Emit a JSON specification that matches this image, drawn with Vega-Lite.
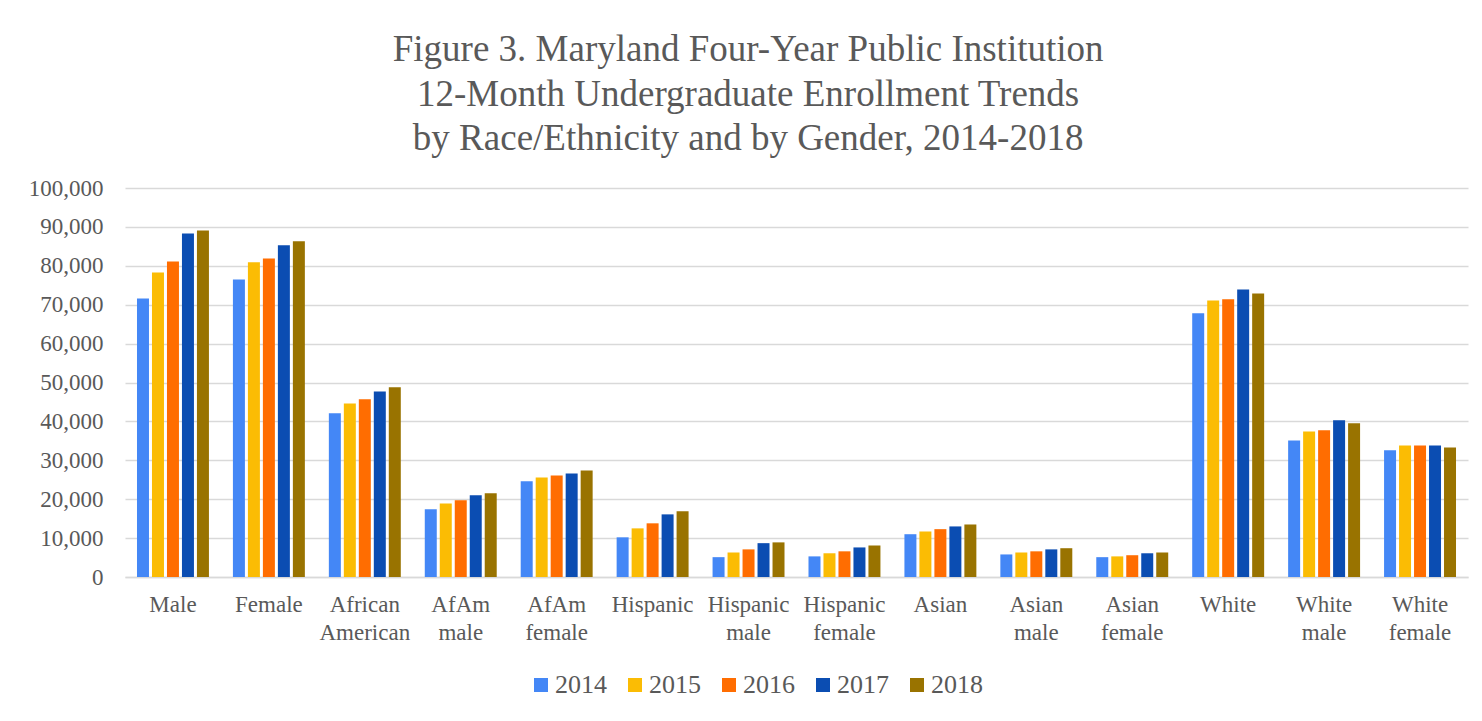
{
  "$schema": "https://vega.github.io/schema/vega-lite/v6.json",
  "autosize": {"type": "none"},
  "width": 1343,
  "height": 389,
  "padding": {"left": 125, "top": 188, "right": 14, "bottom": 144},
  "background": "white",
  "title": {
    "text": ["Figure 3. Maryland Four-Year Public Institution", "12-Month Undergraduate Enrollment Trends", "by Race/Ethnicity and by Gender, 2014-2018"],
    "font": "Liberation Serif",
    "fontSize": 37,
    "fontWeight": "normal",
    "color": "#595959",
    "lineHeight": 44.5,
    "anchor": "middle",
    "frame": "bounds",
    "offset": 19
  },
  "data": {
    "values": [
      {"group": "Male", "year": "2014", "value": 71600},
      {"group": "Male", "year": "2015", "value": 78300},
      {"group": "Male", "year": "2016", "value": 81100},
      {"group": "Male", "year": "2017", "value": 88300},
      {"group": "Male", "year": "2018", "value": 89100},
      {"group": "Female", "year": "2014", "value": 76500},
      {"group": "Female", "year": "2015", "value": 80900},
      {"group": "Female", "year": "2016", "value": 81900},
      {"group": "Female", "year": "2017", "value": 85300},
      {"group": "Female", "year": "2018", "value": 86300},
      {"group": "African American", "year": "2014", "value": 42100},
      {"group": "African American", "year": "2015", "value": 44600},
      {"group": "African American", "year": "2016", "value": 45700},
      {"group": "African American", "year": "2017", "value": 47700},
      {"group": "African American", "year": "2018", "value": 48800},
      {"group": "AfAm male", "year": "2014", "value": 17400},
      {"group": "AfAm male", "year": "2015", "value": 18900},
      {"group": "AfAm male", "year": "2016", "value": 19700},
      {"group": "AfAm male", "year": "2017", "value": 21000},
      {"group": "AfAm male", "year": "2018", "value": 21500},
      {"group": "AfAm female", "year": "2014", "value": 24600},
      {"group": "AfAm female", "year": "2015", "value": 25600},
      {"group": "AfAm female", "year": "2016", "value": 26100},
      {"group": "AfAm female", "year": "2017", "value": 26600},
      {"group": "AfAm female", "year": "2018", "value": 27400},
      {"group": "Hispanic", "year": "2014", "value": 10200},
      {"group": "Hispanic", "year": "2015", "value": 12500},
      {"group": "Hispanic", "year": "2016", "value": 13800},
      {"group": "Hispanic", "year": "2017", "value": 16100},
      {"group": "Hispanic", "year": "2018", "value": 16900},
      {"group": "Hispanic male", "year": "2014", "value": 5100},
      {"group": "Hispanic male", "year": "2015", "value": 6300},
      {"group": "Hispanic male", "year": "2016", "value": 7100},
      {"group": "Hispanic male", "year": "2017", "value": 8700},
      {"group": "Hispanic male", "year": "2018", "value": 8900},
      {"group": "Hispanic female", "year": "2014", "value": 5300},
      {"group": "Hispanic female", "year": "2015", "value": 6100},
      {"group": "Hispanic female", "year": "2016", "value": 6600},
      {"group": "Hispanic female", "year": "2017", "value": 7600},
      {"group": "Hispanic female", "year": "2018", "value": 8100},
      {"group": "Asian", "year": "2014", "value": 11000},
      {"group": "Asian", "year": "2015", "value": 11700},
      {"group": "Asian", "year": "2016", "value": 12300},
      {"group": "Asian", "year": "2017", "value": 13000},
      {"group": "Asian", "year": "2018", "value": 13500},
      {"group": "Asian male", "year": "2014", "value": 5800},
      {"group": "Asian male", "year": "2015", "value": 6300},
      {"group": "Asian male", "year": "2016", "value": 6600},
      {"group": "Asian male", "year": "2017", "value": 7100},
      {"group": "Asian male", "year": "2018", "value": 7400},
      {"group": "Asian female", "year": "2014", "value": 5100},
      {"group": "Asian female", "year": "2015", "value": 5300},
      {"group": "Asian female", "year": "2016", "value": 5600},
      {"group": "Asian female", "year": "2017", "value": 6100},
      {"group": "Asian female", "year": "2018", "value": 6300},
      {"group": "White", "year": "2014", "value": 67800},
      {"group": "White", "year": "2015", "value": 71100},
      {"group": "White", "year": "2016", "value": 71400},
      {"group": "White", "year": "2017", "value": 73900},
      {"group": "White", "year": "2018", "value": 72900},
      {"group": "White male", "year": "2014", "value": 35100},
      {"group": "White male", "year": "2015", "value": 37400},
      {"group": "White male", "year": "2016", "value": 37700},
      {"group": "White male", "year": "2017", "value": 40300},
      {"group": "White male", "year": "2018", "value": 39500},
      {"group": "White female", "year": "2014", "value": 32600},
      {"group": "White female", "year": "2015", "value": 33800},
      {"group": "White female", "year": "2016", "value": 33800},
      {"group": "White female", "year": "2017", "value": 33800},
      {"group": "White female", "year": "2018", "value": 33300}
    ]
  },
  "mark": {"type": "bar"},
  "encoding": {
    "x": {
      "field": "group",
      "type": "nominal",
      "sort": null,
      "title": null,
      "scale": {"paddingInner": 0.25, "paddingOuter": 0.125},
      "axis": {
        "labelAngle": 0,
        "labelExpr": "split(datum.value, ' ')",
        "labelFont": "Liberation Serif",
        "labelFontSize": 23,
        "labelColor": "#595959",
        "labelLineHeight": 28,
        "labelPadding": 16,
        "ticks": false,
        "domainColor": "#d9d9d9",
        "domainWidth": 1.5,
        "grid": false
      }
    },
    "xOffset": {
      "field": "year",
      "type": "nominal",
      "scale": {"paddingInner": 0.2, "paddingOuter": 0}
    },
    "y": {
      "field": "value",
      "type": "quantitative",
      "title": null,
      "scale": {"domain": [0, 100000], "nice": false},
      "axis": {
        "values": [0, 10000, 20000, 30000, 40000, 50000, 60000, 70000, 80000, 90000, 100000],
        "format": ",.0f",
        "labelFont": "Liberation Serif",
        "labelFontSize": 23,
        "labelColor": "#595959",
        "labelPadding": 22,
        "ticks": false,
        "domain": false,
        "gridColor": "#d9d9d9",
        "gridWidth": 1.5
      }
    },
    "color": {
      "field": "year",
      "type": "nominal",
      "title": null,
      "scale": {
        "domain": ["2014", "2015", "2016", "2017", "2018"],
        "range": ["#4487f6", "#fbbc04", "#ff6d01", "#0b4db2", "#997300"]
      },
      "legend": {
        "orient": "none",
        "legendX": 403,
        "legendY": 484,
        "direction": "horizontal",
        "symbolType": "square",
        "symbolSize": 196,
        "symbolStrokeWidth": 0,
        "labelFont": "Liberation Serif",
        "labelFontSize": 26,
        "labelColor": "#595959",
        "labelOffset": 1,
        "columnPadding": 15
      }
    }
  },
  "config": {
    "view": {"stroke": null}
  }
}
